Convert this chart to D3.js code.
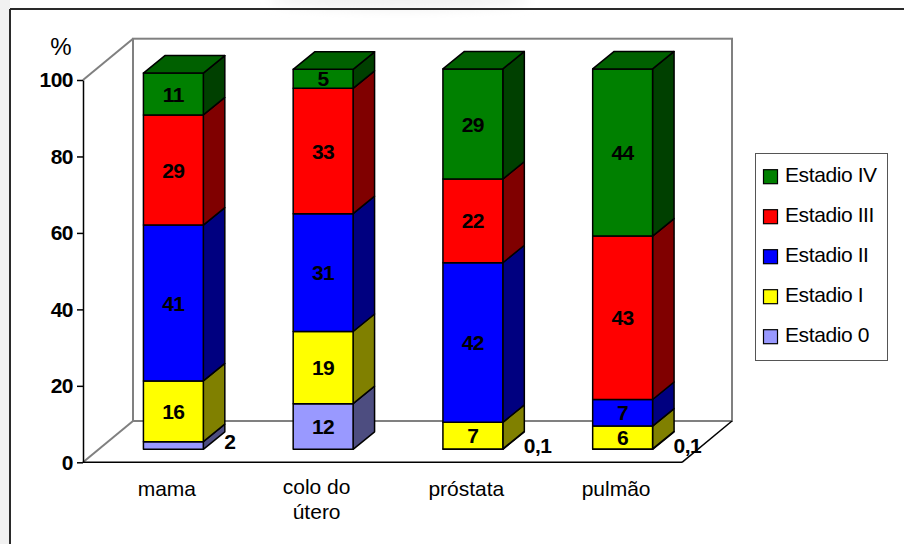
<!DOCTYPE html>
<html>
<head>
<meta charset="utf-8">
<script src="https://cdn.jsdelivr.net/npm/d3@7"></script>
<style>
  html, body { margin: 0; padding: 0; background: #fff; }
  svg { display: block; }
  text { font-family: Arial, "Liberation Sans", sans-serif; }
</style>
</head>
<body>
<svg id="chart" width="904" height="544"></svg>
<script>
// Cancer stage distribution (%) by site
const categories = ["mama", "colo do útero", "próstata", "pulmão"];
const categoryLines = [["mama"], ["colo do", "útero"], ["próstata"], ["pulmão"]];
const stages = ["Estadio 0", "Estadio I", "Estadio II", "Estadio III", "Estadio IV"];
const estadio0   = [2, 12, 0.1, 0.1];
const estadioI   = [16, 19, 7, 6];
const estadioII  = [41, 31, 42, 7];
const estadioIII = [29, 33, 22, 43];
const estadioIV  = [11, 5, 29, 44];
const stageColors = ["#9999ff", "#ffff00", "#0000ff", "#ff0000", "#008000"];
const yTicks = [0, 20, 40, 60, 80, 100];

const series = [estadio0, estadioI, estadioII, estadioIII, estadioIV];

const svg = d3.select("#chart");

// soft grey slide background at the left and top edges
const defs = svg.append("defs");
const haze = defs.append("filter").attr("id", "haze").attr("x", "-50%").attr("y", "-50%").attr("width", "200%").attr("height", "200%");
haze.append("feGaussianBlur").attr("stdDeviation", 6);
svg.append("rect").attr("x", 0).attr("y", 0).attr("width", 10).attr("height", 544).attr("fill", "#f1f1f1");
svg.append("ellipse").attr("cx", 400).attr("cy", 0).attr("rx", 130).attr("ry", 9)
  .attr("fill", "#f0f0f0").attr("filter", "url(#haze)");

// chart frame (top and left edges are inside the page)
svg.append("line").attr("x1", 10).attr("x2", 904).attr("y1", 9).attr("y2", 9)
  .attr("stroke", "#2a2a2a").attr("stroke-width", 2);
svg.append("line").attr("x1", 10).attr("x2", 10).attr("y1", 9).attr("y2", 544)
  .attr("stroke", "#2a2a2a").attr("stroke-width", 2);

// scales on the front plane
const x = d3.scaleBand().domain(categories).range([83, 682]).paddingInner(0.6).paddingOuter(0.3);
const y = d3.scaleLinear().domain([0, 100]).range([462.3, 80]);
// bars stand slightly deeper in the scene, so their vertical scale is a touch shorter
const yBar = y.copy().range([462.3, 82.3]);

// oblique depth of the walls, of the bar row, and of each bar
const wall = { dx: 50, dy: -41.3 };
const row = { dx: 15.5, dy: -13 };
const bar = { dx: 21.5, dy: -17.5 };

const x0 = x.range()[0], x1 = x.range()[1];
const yBase = y(0), yTop = y(100);
const grey = "#808080";

// back wall and floor edges
const walls = svg.append("g").attr("fill", "none").attr("stroke-width", 2);
walls.append("rect")
  .attr("x", x0 + wall.dx).attr("y", yTop + wall.dy)
  .attr("width", x1 - x0).attr("height", yBase - yTop)
  .attr("stroke", grey);
walls.append("line").attr("x1", x0).attr("y1", yTop).attr("x2", x0 + wall.dx).attr("y2", yTop + wall.dy).attr("stroke", grey);
walls.append("line").attr("x1", x0).attr("y1", yBase).attr("x2", x0 + wall.dx).attr("y2", yBase + wall.dy).attr("stroke", grey);
walls.append("line").attr("x1", x0).attr("y1", yBase).attr("x2", x1).attr("y2", yBase).attr("stroke", "#000").attr("stroke-width", 1.5);
walls.append("line").attr("x1", x1).attr("y1", yBase).attr("x2", x1 + wall.dx).attr("y2", yBase + wall.dy).attr("stroke", "#000").attr("stroke-width", 1.5);

// y axis
const yAxis = svg.append("g")
  .attr("transform", `translate(${x0},0)`)
  .call(d3.axisLeft(y).tickValues(yTicks).tickSize(6).tickSizeOuter(0).tickPadding(4));
yAxis.select(".domain").attr("stroke", "#000").attr("stroke-width", 1.5);
yAxis.selectAll(".tick line").attr("stroke", "#000").attr("stroke-width", 1.5);
yAxis.selectAll(".tick text")
  .attr("font-family", "Arial, 'Liberation Sans', sans-serif")
  .attr("font-size", 21).attr("font-weight", "bold").attr("fill", "#000")
  .attr("letter-spacing", -0.5);

svg.append("text").attr("x", 61).attr("y", 55).attr("text-anchor", "middle")
  .attr("font-size", 24).attr("fill", "#000").text("%");

// stacked 3D bars
const stack = d3.stack().keys(d3.range(stages.length)).value((d, k) => series[k][d]);
const layers = stack(d3.range(categories.length));

const fmt = v => (Number.isInteger(v) ? d3.format("d")(v) : d3.format(".1f")(v).replace(".", ","));
const shade = (c, k) => { const r = d3.rgb(c); return d3.rgb(r.r * k, r.g * k, r.b * k).formatHex(); };

const bars = svg.append("g").attr("stroke", "#000").attr("stroke-width", 1.5).attr("stroke-linejoin", "round");
const labels = svg.append("g").attr("font-size", 21).attr("font-weight", "bold")
  .attr("fill", "#000").attr("text-anchor", "middle").attr("letter-spacing", -0.5);

categories.forEach((cat, ci) => {
  const fx = x(cat) + row.dx;
  const w = x.bandwidth();
  layers.forEach((layer, si) => {
    const [v0, v1] = layer[ci];
    const yb = yBar(v0) + row.dy, yt = yBar(v1) + row.dy;
    const col = stageColors[si];
    // right side face
    bars.append("path")
      .attr("d", `M${fx + w},${yb} L${fx + w + bar.dx},${yb + bar.dy} L${fx + w + bar.dx},${yt + bar.dy} L${fx + w},${yt} Z`)
      .attr("fill", shade(col, 0.5));
    // front face
    bars.append("rect").attr("x", fx).attr("y", yt).attr("width", w).attr("height", Math.max(0.01, yb - yt))
      .attr("fill", col);
    // top face on the highest segment
    if (si === layers.length - 1) {
      bars.append("path")
        .attr("d", `M${fx},${yt} L${fx + bar.dx},${yt + bar.dy} L${fx + w + bar.dx},${yt + bar.dy} L${fx + w},${yt} Z`)
        .attr("fill", shade(col, 0.75));
    }
    const val = series[si][ci];
    if (val >= 3) {
      labels.append("text").attr("x", fx + w / 2).attr("y", (yb + yt) / 2)
        .attr("dy", "0.36em").text(fmt(val));
    } else {
      labels.append("text").attr("x", fx + w + 21).attr("y", (yb + yt) / 2 - 4)
        .attr("dy", "0.36em").attr("text-anchor", "start").text(fmt(val));
    }
  });
});

// category labels
const catG = svg.append("g").attr("font-size", 21).attr("fill", "#000").attr("text-anchor", "middle");
categories.forEach((cat, ci) => {
  const cx = x(cat) + x.bandwidth() / 2 + 9;
  const t = catG.append("text").attr("x", cx).attr("y", categoryLines[ci].length > 1 ? 494 : 496);
  categoryLines[ci].forEach((line, li) => {
    t.append("tspan").attr("x", cx).attr("dy", li === 0 ? 0 : 25).text(line);
  });
});

// legend
const legend = svg.append("g");
legend.append("rect").attr("x", 755.5).attr("y", 153.5).attr("width", 132).attr("height", 207)
  .attr("fill", "#fff").attr("stroke", "#555").attr("stroke-width", 1);
const order = d3.range(stages.length).reverse();
order.forEach((si, i) => {
  const cy = 176.7 + i * 40;
  legend.append("rect").attr("x", 763.5).attr("y", cy - 7).attr("width", 14).attr("height", 14)
    .attr("fill", stageColors[si]).attr("stroke", "#000").attr("stroke-width", 1.2);
  legend.append("text").attr("x", 785).attr("y", cy + 5.5).attr("font-size", 21)
    .attr("letter-spacing", -0.4).attr("fill", "#000").text(stages[si]);
});
</script>
</body>
</html>
